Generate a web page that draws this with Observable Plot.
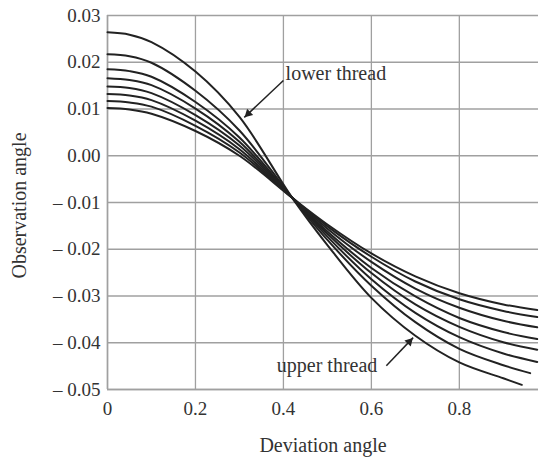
<!DOCTYPE html>
<html>
<head>
<meta charset="utf-8">
<script src="https://cdn.jsdelivr.net/npm/d3@7"></script>
<script src="https://cdn.jsdelivr.net/npm/@observablehq/plot@0.6"></script>
<style>
  html, body { margin: 0; padding: 0; background: white; }
</style>
</head>
<body>
<div id="chart"></div>
<script>
// Sample positions (deviation angle)
const xs = [0, 0.05, 0.1, 0.2, 0.3, 0.42, 0.5, 0.6, 0.7, 0.8, 0.9];
// Where each curve ends (last point)
const endX = [0.942, 0.961, 0.977, 0.977, 0.977, 0.977, 0.977, 0.977];
// Observation angle, one array per curve (steepest / lower thread first)
const curveA = [0.0264, 0.0259, 0.0243, 0.0180, 0.0083, -0.0090, -0.0191, -0.0304, -0.0385, -0.0442, -0.0476, -0.0490];
const curveB = [0.0217, 0.0213, 0.0199, 0.0139, 0.0054, -0.0090, -0.0180, -0.0278, -0.0356, -0.0413, -0.0448, -0.0465];
const curveC = [0.0185, 0.0181, 0.0169, 0.0115, 0.0039, -0.0090, -0.0173, -0.0264, -0.0336, -0.0388, -0.0423, -0.0441];
const curveD = [0.0166, 0.0162, 0.0151, 0.0101, 0.0030, -0.0090, -0.0167, -0.0251, -0.0318, -0.0366, -0.0399, -0.0415];
const curveE = [0.0148, 0.0145, 0.0134, 0.0087, 0.0022, -0.0090, -0.0162, -0.0240, -0.0301, -0.0347, -0.0377, -0.0392];
const curveF = [0.0132, 0.0129, 0.0119, 0.0075, 0.0014, -0.0090, -0.0156, -0.0227, -0.0284, -0.0325, -0.0353, -0.0367];
const curveG = [0.0117, 0.0114, 0.0105, 0.0064, 0.0007, -0.0090, -0.0151, -0.0216, -0.0269, -0.0307, -0.0332, -0.0345];
const curveH = [0.0102, 0.0099, 0.0090, 0.0053, 0.0000, -0.0090, -0.0147, -0.0209, -0.0258, -0.0294, -0.0318, -0.0330];
const curves = [curveA, curveB, curveC, curveD, curveE, curveF, curveG, curveH];

// Tick values
const xTicks = [0, 0.2, 0.4, 0.6, 0.8];
const yTicks = [0.03, 0.02, 0.01, 0.00, -0.01, -0.02, -0.03, -0.04, -0.05];

// Annotations (data units)
const annText = ["lower thread", "upper thread"];
const annTextX = [0.405, 0.385];
const annTextY = [0.0175, -0.0448];
const arrowX1 = [0.400, 0.634];
const arrowY1 = [0.0161, -0.0449];
const arrowX2 = [0.311, 0.695];
const arrowY2 = [0.0082, -0.0389];

const rows = [];
curves.forEach((vals, ci) => {
  vals.forEach((v, i) => {
    rows.push({curve: ci, x: i < xs.length ? xs[i] : endX[ci], y: v});
  });
});

const W = 542, H = 457;
const mL = 107, mR = 4, mT = 15, mB = 68;
const xDom = [0, 0.98], yDom = [-0.05, 0.03];
const kx = (W - mL - mR) / (xDom[1] - xDom[0]);
const ky = (H - mT - mB) / (yDom[1] - yDom[0]);

const arrows = annText.map((t, i) => {
  const dx = (arrowX2[i] - arrowX1[i]) * kx;
  const dy = -(arrowY2[i] - arrowY1[i]) * ky;
  const len = Math.hypot(dx, dy);
  const back = 5.5;
  return {
    x1: arrowX1[i], y1: arrowY1[i], x2: arrowX2[i], y2: arrowY2[i],
    hx: arrowX2[i] - (dx / len) * back / kx,
    hy: arrowY2[i] + (dy / len) * back / ky,
    rot: Math.atan2(dx, -dy) * 180 / Math.PI
  };
});
const texts = annText.map((t, i) => ({t, x: annTextX[i], y: annTextY[i]}));

const fmtY = d => {
  const s = Math.abs(d).toFixed(2);
  return d < -1e-9 ? "\u2013 " + s : s;
};
const fmtX = d => d === 0 ? "0" : String(d);

const chart = Plot.plot({
  width: W, height: H,
  marginLeft: mL, marginRight: mR, marginTop: mT, marginBottom: mB,
  style: {fontFamily: "Liberation Serif, Times New Roman, serif", fontSize: "19px", color: "#333", background: "white"},
  x: {domain: xDom, ticks: xTicks, tickFormat: fmtX, tickSize: 0, tickPadding: 12, label: null},
  y: {domain: yDom, ticks: yTicks, tickFormat: fmtY, tickSize: 0, tickPadding: 7, label: null},
  marks: [
    Plot.gridX(xTicks, {stroke: "#a0a0a0", strokeOpacity: 1, strokeWidth: 1.3}),
    Plot.gridY(yTicks, {stroke: "#a0a0a0", strokeOpacity: 1, strokeWidth: 1.3}),
    Plot.ruleX([0], {stroke: "#a0a0a0", strokeWidth: 1.5}),
    Plot.ruleY([-0.05], {stroke: "#a0a0a0", strokeWidth: 1.5}),
    Plot.line(rows, {x: "x", y: "y", z: "curve", curve: "catmull-rom", stroke: "#222", strokeWidth: 2}),
    Plot.link(arrows, {x1: "x1", y1: "y1", x2: "x2", y2: "y2", stroke: "#222", strokeWidth: 1.5}),
    Plot.dot(arrows, {x: "hx", y: "hy", rotate: "rot", symbol: "triangle2", r: 4.2, fill: "#222", stroke: "none"}),
    Plot.text(texts, {x: "x", y: "y", text: "t", textAnchor: "start", fontSize: 20, fill: "#333"}),
    Plot.text(["Deviation angle"], {frameAnchor: "bottom", dy: 62, fontSize: 20, fill: "#333"}),
    Plot.text(["Observation angle"], {frameAnchor: "left", textAnchor: "middle", dx: -88, dy: 3, rotate: -90, fontSize: 20, fill: "#333"})
  ]
});
document.getElementById("chart").appendChild(chart);
</script>
</body>
</html>
